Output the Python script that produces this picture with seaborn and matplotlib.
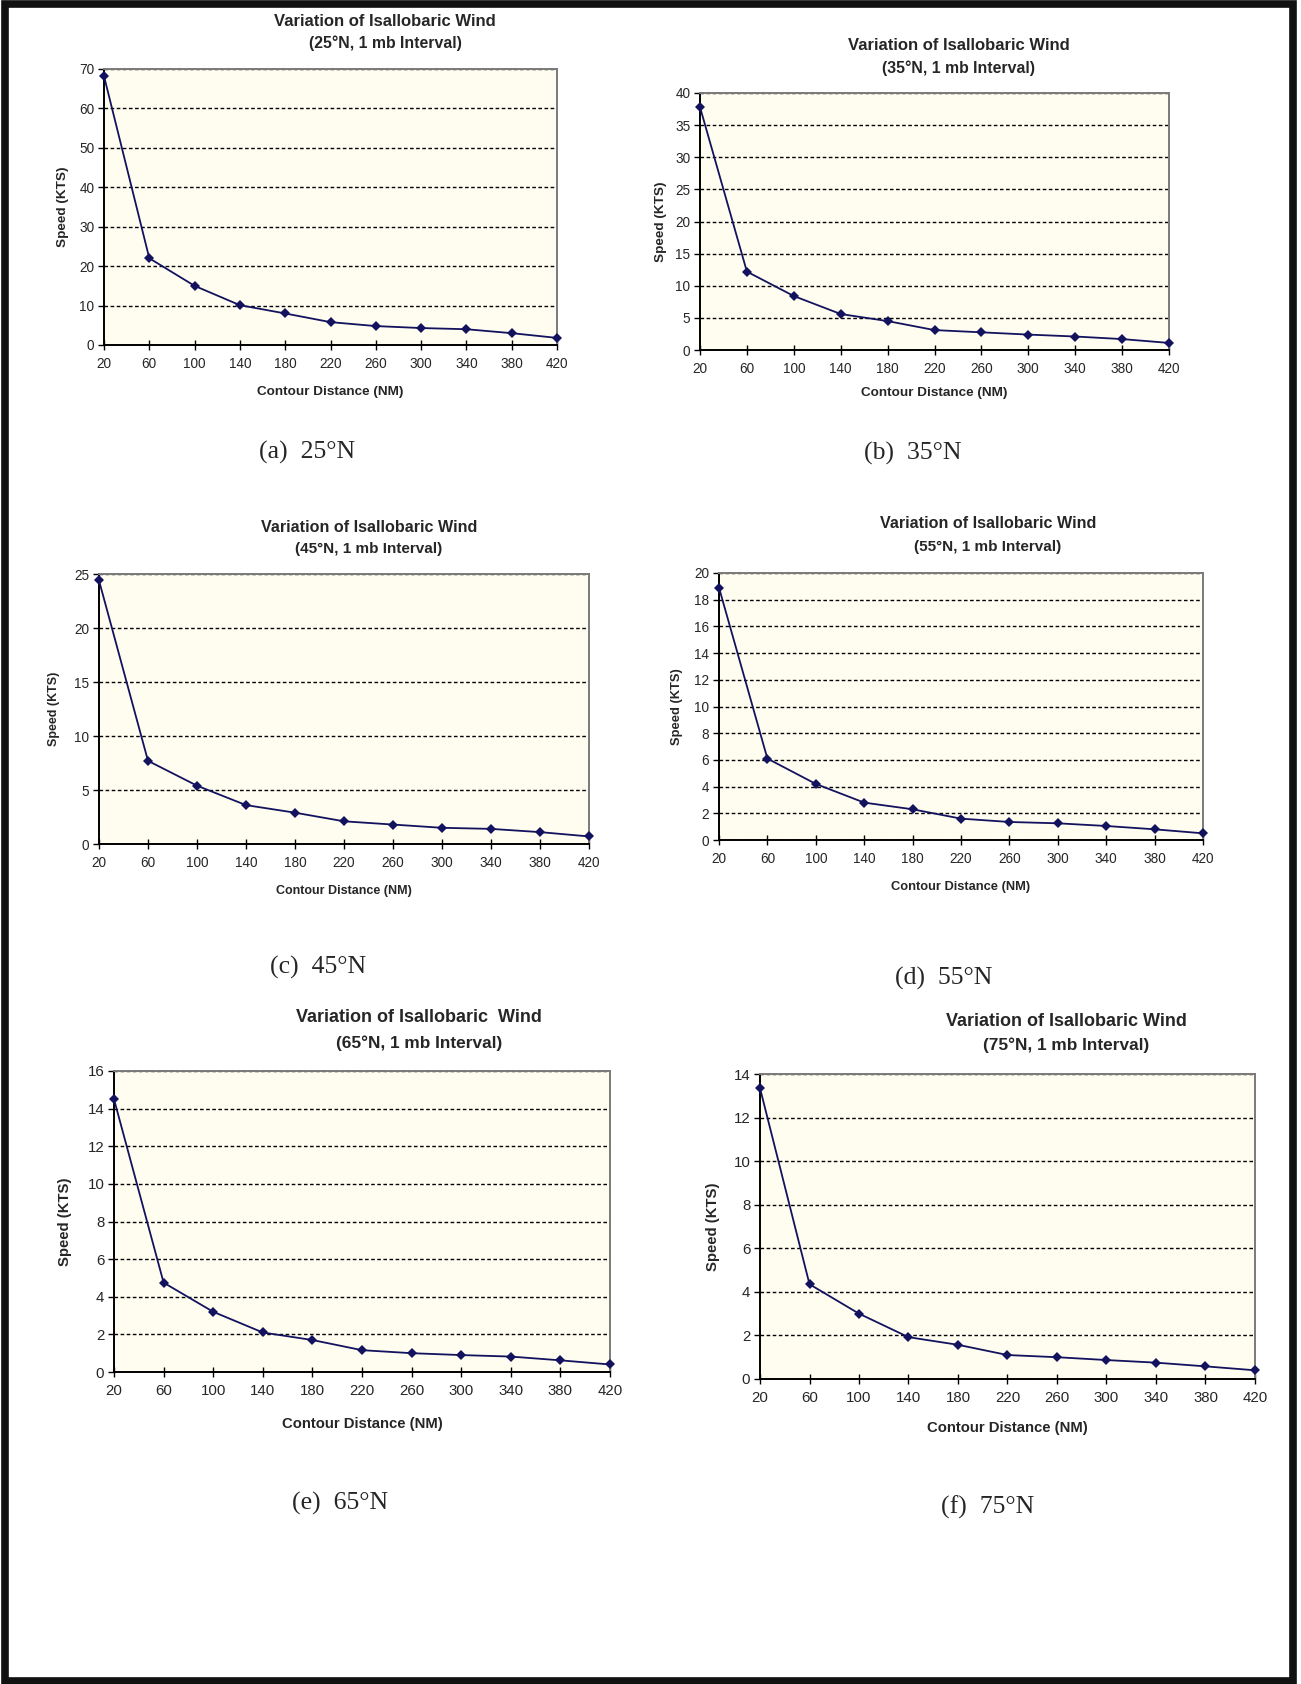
import matplotlib
matplotlib.use("Agg")
import matplotlib.pyplot as plt
import seaborn as sns
import pandas as pd
from matplotlib.patches import Rectangle

# ---------------- data ----------------
distance_nm = [20, 60, 100, 140, 180, 220, 260, 300, 340, 380, 420]
speed_25N = [68.2, 22.0, 15.0, 10.1, 8.0, 5.8, 4.8, 4.3, 4.0, 3.0, 1.8]
speed_35N = [37.8, 12.2, 8.4, 5.6, 4.5, 3.1, 2.75, 2.4, 2.1, 1.7, 1.1]
speed_45N = [24.4, 7.7, 5.4, 3.6, 2.9, 2.1, 1.8, 1.5, 1.4, 1.1, 0.7]
speed_55N = [18.9, 6.1, 4.2, 2.8, 2.3, 1.6, 1.35, 1.25, 1.05, 0.8, 0.5]
speed_65N = [14.5, 4.75, 3.2, 2.1, 1.7, 1.16, 1.0, 0.9, 0.82, 0.62, 0.4]
speed_75N = [13.35, 4.35, 3.0, 1.92, 1.57, 1.1, 1.0, 0.87, 0.75, 0.58, 0.4]

latitudes = ["25°N", "35°N", "45°N", "55°N", "65°N", "75°N"]
panel_letters = ["(a)", "(b)", "(c)", "(d)", "(e)", "(f)"]
title_lines = ["Variation of Isallobaric Wind"] * 4 + ["Variation of Isallobaric  Wind",
                                                      "Variation of Isallobaric Wind"]
subtitle_lines = ["(25°N, 1 mb Interval)", "(35°N, 1 mb Interval)", "(45°N, 1 mb Interval)",
                  "(55°N, 1 mb Interval)", "(65°N, 1 mb Interval)", "(75°N, 1 mb Interval)"]
y_max = [70, 40, 25, 20, 16, 14]
y_step = [10, 5, 5, 2, 2, 2]
x_label = "Contour Distance (NM)"
y_label = "Speed (KTS)"
series = [speed_25N, speed_35N, speed_45N, speed_55N, speed_65N, speed_75N]

# ---------------- layout (pixels) ----------------
W, H = 1301, 1684
boxes = [(104, 69, 557, 345), (700, 93, 1169, 350),
         (99, 574, 589, 844), (719, 573, 1203, 840),
         (114, 1071, 610, 1372), (760, 1074, 1255, 1379)]
title_pos = [(385, 21, 43), (959, 46, 68), (369, 527, 549),
             (988, 524, 547), (419, 1018, 1043), (1066, 1021, 1045)]
ylabel_x = [63, 661, 54, 677, 65, 713]
xlabel_y = [392, 393, 891, 887, 1424, 1428]
caption_pos = [(307, 452), (913, 453), (318, 967), (944, 978), (340, 1503), (988, 1507)]
title_size = [12, 12, 11.6, 11.6, 13, 13]
label_size = [9.7, 9.7, 9, 9.3, 10.7, 10.7]
tick_size = [9.8, 9.8, 9.8, 9.8, 10.8, 10.8]

sns.set_style("white")
plt.rcParams['font.family'] = ['Liberation Sans', 'DejaVu Sans']

fig = plt.figure(figsize=(W / 100, H / 100), dpi=100)
fig.patch.set_facecolor("white")

line_color = "#12125e"
face = "#FFFDF0"

for i in range(6):
    L, T, R, B = boxes[i]
    ax = fig.add_axes([L / W, 1 - B / H, (R - L) / W, (B - T) / H])
    df = pd.DataFrame({"distance": distance_nm, "speed": series[i]})
    sns.lineplot(data=df, x="distance", y="speed", ax=ax, color=line_color,
                 marker="D", markersize=5.5, markeredgewidth=0, linewidth=1.3,
                 clip_on=False, zorder=5)
    ax.set_facecolor(face)
    ax.set_xlim(20, 420)
    ax.set_ylim(0, y_max[i])
    ax.set_xticks(distance_nm)
    ax.set_xticklabels([str(v) for v in distance_nm])
    ax.set_yticks(list(range(0, y_max[i] + 1, y_step[i])))
    ax.yaxis.grid(True, color="black", linestyle=(0, (2.6, 1.8)), linewidth=1.0)
    ax.xaxis.grid(False)
    ax.set_axisbelow(True)
    for s in ["left", "bottom"]:
        ax.spines[s].set_color("black")
        ax.spines[s].set_linewidth(1.4)
    for s in ["top", "right"]:
        ax.spines[s].set_color("#7a7a7a")
        ax.spines[s].set_linewidth(1.4)
    ax.tick_params(axis="y", direction="out", length=4, width=1.0, color="black",
                   labelsize=tick_size[i], pad=3, left=True)
    ax.tick_params(axis="x", direction="inout", length=7, width=1.0, color="black",
                   labelsize=tick_size[i], pad=5, bottom=True)

    ax.set_xlabel(x_label, fontsize=label_size[i], fontweight="bold")
    ax.set_ylabel(y_label, fontsize=label_size[i], fontweight="bold")
    ax.xaxis.label.set_va("center")
    ax.yaxis.label.set_va("center")
    ax.xaxis.set_label_coords(0.5, (B - xlabel_y[i]) / (B - T))
    ax.yaxis.set_label_coords((ylabel_x[i] - L) / (R - L), 0.5)

    cx, y1, y2 = title_pos[i]
    fig.text(cx / W, 1 - y1 / H, title_lines[i], ha="center", va="center",
             fontsize=title_size[i], fontweight="bold")
    fig.text(cx / W, 1 - y2 / H, subtitle_lines[i], ha="center", va="center",
             fontsize=title_size[i] - 0.6, fontweight="bold")

    px, py = caption_pos[i]
    fig.text(px / W, 1 - py / H, f"{panel_letters[i]}  {latitudes[i]}",
             ha="center", va="center", fontsize=18.5,
             family=["Liberation Serif", "DejaVu Serif"])

# outer frame
fig.patches.append(Rectangle((4.5 / W, 1 - 1680.5 / H), (1293 - 4.5) / W, (1680.5 - 3.5) / H,
                             transform=fig.transFigure, fill=False,
                             edgecolor="#111111", linewidth=5.5))

fig.savefig("out.png", dpi=100, facecolor="white")
